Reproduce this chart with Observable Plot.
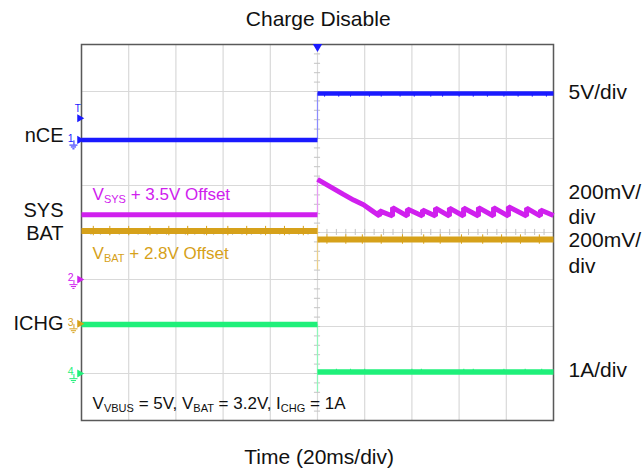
<!DOCTYPE html>
<html><head><meta charset="utf-8">
<script src="https://cdn.jsdelivr.net/npm/d3@7"></script>
<script src="https://cdn.jsdelivr.net/npm/@observablehq/plot@0.6"></script>
<style>body{margin:0;background:#fff;}</style>
</head><body><div id="chart"></div>
<script>
// ---- data (time in ms, 20 ms/div; level in screen divisions, centre = 0) ----
const title = "Charge Disable";
const xLabel = "Time (20ms/div)";
const timeDomain = [-100, 100];
const divDomain = [-4, 4];
const stepTime = 0;

const nceTime  = [-100, 0, 0, 100];
const nceLevel = [1.97, 1.97, 2.96, 2.96];
const nceSeg   = [0, 0, 1, 1];

const sysTime  = [-100, 0,
  0, 5.5, 11.0, 15.3, 19.5, 22.9, 26.3,
  26.3, 31.8, 31.8, 38.1, 38.1, 44.5, 44.5, 50.0, 50.0, 55.9, 55.9, 61.9,
  61.9, 68.2, 68.2, 74.6, 74.6, 80.9, 80.9, 88.6, 88.6, 94.5, 94.5, 100];
const sysLevel = [0.38, 0.38,
  1.13, 0.97, 0.81, 0.69, 0.59, 0.47, 0.35,
  0.46, 0.35, 0.53, 0.35, 0.50, 0.35, 0.48, 0.35, 0.52, 0.35, 0.52, 0.35,
  0.52, 0.35, 0.53, 0.35, 0.53, 0.35, 0.55, 0.35, 0.52, 0.35, 0.48, 0.36];
const sysSeg   = [0, 0, 1,1,1,1,1,1,1, 1,1,1,1,1,1,1,1,1,1,1,1, 1,1,1,1,1,1,1,1,1,1,1,1];

const batTime  = [-100, 0, 0, 100];
const batLevel = [0.03, 0.03, -0.15, -0.15];
const batSeg   = [0, 0, 1, 1];

const ichgTime  = [-100, 0, 0, 100];
const ichgLevel = [-1.96, -1.96, -2.97, -2.97];
const ichgSeg   = [0, 0, 1, 1];

// thin transition edges at the step
const stepFrom = [1.97, 0.38, 0.15, -1.96];
const stepTo   = [2.96, 1.13, -0.80, -3.40];

// noise spikes
const vbusSpikeTime = [3, 9, 14, 22, 27, 35, 41, 48, 53, 60, 66, 72, 79, 85, 91, 97];
const batSpikeTime  = [-95, -88, -80, -71, -63, -55, -47, -38, -30, -22, -14, -6, 4, 12, 19, 27, 36, 45, 52, 61, 70, 78, 86, 94];
const ichgSpikeTime = [8, 14, 20, 40, 44, 62, 66, 79, 88, 95];

// labels
const leftLabels = ["nCE", "SYS", "BAT", "ICHG"];
const leftLabelY = [1.915, 0.34, -0.17, -2.064];
const rightLabels = ["5V/div", "200mV/", "div", "200mV/", "div", "1A/div"];
const rightLabelY = [2.851, 0.723, 0.191, -0.298, -0.872, -3.085];
const noteText = ["V_{SYS} + 3.5V Offset", "V_{BAT} + 2.8V Offset", "V_{VBUS} = 5V, V_{BAT} = 3.2V, I_{CHG} = 1A"];
const noteY = [0.681, -0.574, -3.745];
const channelNum = ["1", "2", "3", "4"];
const channelY = [1.97, -1.0, -1.94, -3.0];
const triggerLevelY = 2.43;

const colors = ["#1a1aff", "#d020ee", "#d6a11a", "#1ff07a"];
const lightColors = ["#8c8cff", "#e89cf5", "#ecd08a", "#8ff7bb"];
const noteColors = ["#d020ee", "#d6a11a", "#111"];

// ---- build tables ----
const mk = (t, v, s) => t.map((d, i) => ({t: d, v: v[i], s: s[i]}));
const nce = mk(nceTime, nceLevel, nceSeg);
const sys = mk(sysTime, sysLevel, sysSeg);
const bat = mk(batTime, batLevel, batSeg);
const ichg = mk(ichgTime, ichgLevel, ichgSeg);
const steps = stepFrom.map((d, i) => ({a: d, b: stepTo[i], c: lightColors[i]}));
const chans = channelY.map((d, i) => ({y: d, c: colors[i], n: channelNum[i]}));
const groundBars = [];
chans.forEach(ch => [[0.11, 1.7], [0.15, 1.1], [0.19, 0.45]].forEach(([off, half]) =>
  groundBars.push({y: ch.y - off, half, c: ch.c})));

const font = "'Liberation Sans', Arial, sans-serif";
const groundX = -103.2;

const plot = Plot.plot({
  width: 643, height: 468,
  marginLeft: 81, marginRight: 90, marginTop: 44, marginBottom: 48,
  x: {domain: timeDomain, axis: null},
  y: {domain: divDomain, axis: null},
  style: {fontFamily: font, background: "white", color: "#111"},
  marks: [
    Plot.ruleX(d3.range(-100, 101, 20), {stroke: "#d9d9d9", strokeWidth: 1.2}),
    Plot.ruleY(d3.range(-4, 5, 1), {stroke: "#d9d9d9", strokeWidth: 1.2}),
    Plot.ruleY(d3.range(-4, 4.01, 0.2), {x1: -1.3, x2: 1.3, stroke: "#c4c4c4"}),
    Plot.ruleX(d3.range(-100, 100.1, 4), {y1: -0.065, y2: 0.065, stroke: "#c4c4c4"}),
    Plot.frame({stroke: "#595959", strokeWidth: 1.5}),
    // step edges
    Plot.ruleX(steps, {x: stepTime, y1: "a", y2: "b", stroke: "c", strokeWidth: 1.2}),
    // traces
    Plot.line(ichg, {x: "t", y: "v", z: "s", stroke: colors[3], strokeWidth: 5.5, strokeLinecap: "butt"}),
    Plot.ruleX(ichgSpikeTime, {x: d => d, y1: -2.97, y2: -2.91, stroke: colors[3], strokeWidth: 1}),
    Plot.line(bat, {x: "t", y: "v", z: "s", stroke: colors[2], strokeWidth: 6, strokeLinecap: "butt"}),
    Plot.ruleX(batSpikeTime, {x: d => d, y1: d => (d < 0 ? 0.03 : -0.15) - 0.1, y2: d => (d < 0 ? 0.03 : -0.15) + 0.1, stroke: colors[2], strokeWidth: 1}),
    Plot.line(sys, {x: "t", y: "v", z: "s", stroke: colors[1], strokeWidth: 5, strokeLinecap: "butt", strokeLinejoin: "bevel"}),
    Plot.line(nce, {x: "t", y: "v", z: "s", stroke: colors[0], strokeWidth: 4.5, strokeLinecap: "butt"}),
    Plot.ruleX(vbusSpikeTime, {x: d => d, y1: 2.96, y2: 2.88, stroke: colors[0], strokeWidth: 1}),
    // trigger markers
    Plot.dot([stepTime], {x: d => d, y: 3.955, symbol: "triangle", rotate: 180, r: 3.5, fill: colors[0], stroke: "none"}),
    Plot.dot([triggerLevelY], {x: -100.8, y: d => d, symbol: "triangle", rotate: 90, r: 3, fill: colors[0], stroke: "none"}),
    Plot.text(["T"], {x: -101.6, y: triggerLevelY + 0.2, text: d => d, fill: colors[0], fontSize: 10, fontFamily: font}),
    // channel markers with ground symbols
    Plot.dot(chans, {x: -100.8, y: "y", symbol: "triangle", rotate: 90, r: 3, fill: "c", stroke: "none"}),
    Plot.ruleX(chans, {x: groundX, y1: d => d.y - 0.02, y2: d => d.y - 0.11, stroke: "c", strokeWidth: 1}),
    Plot.ruleY(groundBars, {y: "y", x1: d => groundX - d.half, x2: d => groundX + d.half, stroke: "c", strokeWidth: 1}),
    Plot.text(chans, {x: -104.6, y: d => d.y + 0.03, text: "n", fill: "c", fontSize: 10.5, fontFamily: font}),
    // left labels
    Plot.text(leftLabels, {x: -107.6, y: (d, i) => leftLabelY[i], text: d => d, textAnchor: "end", lineAnchor: "bottom", fontSize: 20, fill: "#111", fontFamily: font}),
    // right labels
    Plot.text(rightLabels, {x: 106.4, y: (d, i) => rightLabelY[i], text: d => d, textAnchor: "start", lineAnchor: "bottom", fontSize: 21, fill: "#111", fontFamily: font}),
    // notes
    Plot.text(noteText, {x: -95.3, y: (d, i) => noteY[i], text: d => d, textAnchor: "start", lineAnchor: "bottom", fontSize: 17, fill: (d, i) => noteColors[i], fontFamily: font}),
    // title and x label
    Plot.text([title], {x: 0.3, y: 4.383, text: d => d, lineAnchor: "bottom", fontSize: 21, fill: "#111", fontFamily: font}),
    Plot.text([xLabel], {x: 0.7, y: -4.915, text: d => d, lineAnchor: "bottom", fontSize: 21, fill: "#111", fontFamily: font})
  ]
});

// subscripts
plot.querySelectorAll("text").forEach(el => {
  const s = el.textContent;
  if (!s.includes("_{")) return;
  el.textContent = "";
  const ns = "http://www.w3.org/2000/svg";
  const parts = s.split(/_\{([^}]*)\}/);
  let shifted = false;
  parts.forEach((p, i) => {
    if (p === "") return;
    const ts = document.createElementNS(ns, "tspan");
    ts.textContent = p;
    if (i % 2 === 1) {
      ts.setAttribute("font-size", "11");
      ts.setAttribute("dy", "3");
      shifted = true;
    } else if (shifted) {
      ts.setAttribute("dy", "-3");
      shifted = false;
    }
    el.appendChild(ts);
  });
});

document.getElementById("chart").appendChild(plot);
</script>
</body></html>
